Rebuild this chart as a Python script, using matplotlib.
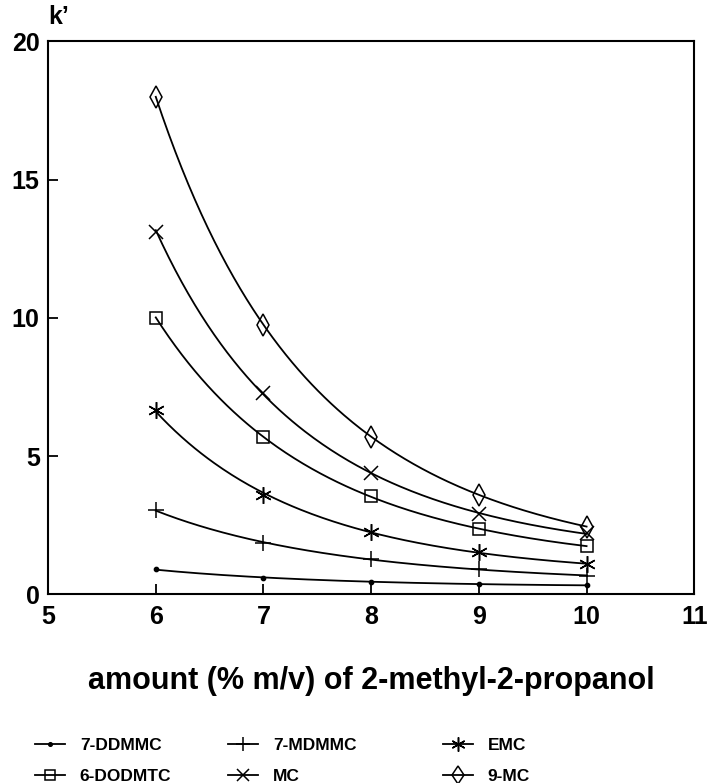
import numpy as np
import matplotlib
matplotlib.use("Agg")
import matplotlib.pyplot as plt

plt.rcParams['font.family'] = ['Liberation Sans', 'DejaVu Sans']

# amount (% m/v) of 2-methyl-2-propanol
amount = [6, 7, 8, 9, 10]

# k' values
k_ddmmc = [0.90, 0.60, 0.45, 0.38, 0.32]
k_mdmmc = [3.05, 1.85, 1.27, 0.90, 0.68]
k_emc = [6.67, 3.60, 2.25, 1.52, 1.10]
k_dodmtc = [10.0, 5.70, 3.55, 2.35, 1.75]
k_mc = [13.1, 7.30, 4.40, 2.90, 2.20]
k_9mc = [18.0, 9.75, 5.70, 3.60, 2.45]

names = ['7-DDMMC', '7-MDMMC', 'EMC', '6-DODMTC', 'MC', '9-MC']
series = [k_ddmmc, k_mdmmc, k_emc, k_dodmtc, k_mc, k_9mc]
markers = ['.', '+', (6, 2, 0), 's', 'x', 'd']
msizes = [6, 12, 12, 9, 10, 11]
mfaces = ['black', 'none', 'none', 'none', 'none', 'none']

fig = plt.figure(figsize=(7.07, 7.83), dpi=100)
ax = fig.add_axes([0.068, 0.241, 0.914, 0.706])

x = np.array(amount, dtype=float)
xs = np.linspace(6, 10, 200)
handles = []
for name, k, m, ms, fc in zip(names, series, markers, msizes, mfaces):
    # smooth curve: quadratic fit of ln(k)
    coef = np.polyfit(x, np.log(k), 2)
    ax.plot(xs, np.exp(np.polyval(coef, xs)), color='black', lw=1.3)
    ax.plot(x, k, linestyle='none', marker=m, markersize=ms,
            markerfacecolor=fc, markeredgecolor='black', markeredgewidth=1.1)
    h, = ax.plot([], [], color='black', lw=1.3, marker=m, markersize=ms * 0.85,
                 markerfacecolor=fc, markeredgecolor='black', markeredgewidth=1.1)
    handles.append(h)

ax.set_xlim(5, 11)
ax.set_ylim(0, 20)
ax.set_xticks([5, 6, 7, 8, 9, 10, 11])
ax.set_yticks([0, 5, 10, 15, 20])
ax.tick_params(direction='in', length=7, width=1.3, labelsize=18)
ax.tick_params(axis='x', pad=8)
ax.tick_params(axis='y', pad=6)
for lab in ax.get_xticklabels() + ax.get_yticklabels():
    lab.set_fontweight('bold')
for sp in ax.spines.values():
    sp.set_linewidth(1.5)

ax.set_xlabel('amount (% m/v) of 2-methyl-2-propanol', fontsize=22,
              fontweight='bold', labelpad=26)
fig.text(0.068, 0.978, 'k\u2019', fontsize=18, fontweight='bold', ha='left', va='center')

# legend: three columns of two rows, each column placed on its own
col_x = [0.049, 0.322, 0.626]
for c in range(3):
    idx = [c, c + 3]
    fig.legend([handles[i] for i in idx], [names[i] for i in idx],
               loc='center left', bbox_to_anchor=(col_x[c], 0.028),
               frameon=False, handlelength=1.75, handletextpad=0.85,
               labelspacing=0.9, borderpad=0, borderaxespad=0,
               prop={'size': 12.5, 'weight': 'bold'})

fig.savefig('out.png', dpi=100)
